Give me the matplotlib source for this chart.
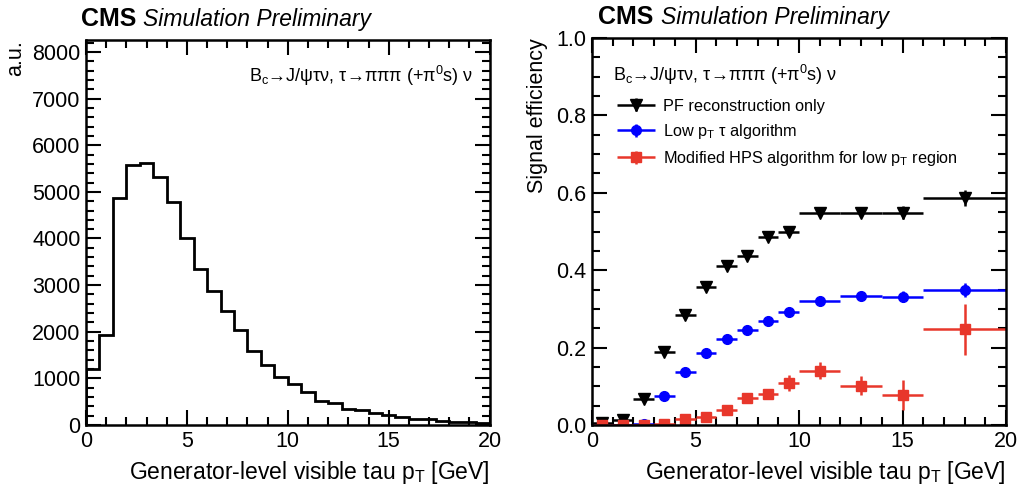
"""CMS low-pT tau: generator-level visible pT and signal efficiency."""

import matplotlib

matplotlib.use("Agg")
import matplotlib.pyplot as plt
import numpy as np
from matplotlib.container import ErrorbarContainer
from matplotlib.legend_handler import HandlerErrorbar

plt.rcParams["font.family"] = ["Liberation Sans", "DejaVu Sans"]
plt.rcParams["mathtext.fontset"] = "custom"
plt.rcParams["mathtext.rm"] = "Liberation Sans"
plt.rcParams["mathtext.it"] = "Liberation Sans:italic"
plt.rcParams["mathtext.bf"] = "Liberation Sans:bold"

# histogram: 30 bins between 0 and 20 GeV
hist_edges = np.linspace(0.0, 20.0, 31)
hist_counts = [
    1210, 1940, 4860, 5570, 5610, 5320, 4780, 4000, 3350, 2880,
    2450, 2030, 1590, 1280, 1020, 870, 700, 525, 480, 340,
    325, 250, 215, 165, 130, 120, 88, 72, 58, 45,
]

# efficiency bins
eff_x = [0.5, 1.5, 2.5, 3.5, 4.5, 5.5, 6.5, 7.5, 8.5, 9.5, 11, 13, 15, 18]
eff_xerr = [0.5] * 10 + [1, 1, 1, 2]

pf_eff = [0.005, 0.013, 0.066, 0.189, 0.285, 0.356, 0.410, 0.436,
          0.487, 0.498, 0.547, 0.547, 0.549, 0.587]
pf_err = [0.002, 0.003, 0.005, 0.007, 0.008, 0.008, 0.008, 0.009,
          0.009, 0.010, 0.008, 0.010, 0.016, 0.020]

lowpt_eff = [0.0, 0.0, 0.002, 0.076, 0.136, 0.186, 0.222, 0.245,
             0.270, 0.292, 0.320, 0.334, 0.332, 0.349]
lowpt_err = [0.001, 0.001, 0.002, 0.005, 0.006, 0.006, 0.007, 0.007,
             0.008, 0.009, 0.007, 0.009, 0.015, 0.018]

hps_eff = [0.0, 0.0, 0.0, 0.002, 0.016, 0.020, 0.040, 0.071,
           0.081, 0.109, 0.140, 0.102, 0.078, 0.247]
hps_err = [0.001, 0.001, 0.001, 0.002, 0.004, 0.005, 0.007, 0.010,
           0.012, 0.020, 0.022, 0.025, 0.038, 0.065]

DECAY_TEXT = r"B$_\mathregular{c}$→J/ψτν, τ→πππ (+π$^\mathregular{0}$s) ν"
XLABEL = r"Generator-level visible tau p$_\mathregular{T}$ [GeV]"


def style_axis(axis, y_major, y_minor):
    axis.set_xlim(0, 20)
    axis.set_xticks(np.arange(0, 21, 5))
    axis.set_xticks(np.arange(0, 21, 1), minor=True)
    axis.set_yticks(y_major)
    axis.set_yticks(y_minor, minor=True)
    axis.tick_params(which="both", direction="in", top=True, right=True,
                     width=1.5, labelsize=15.5, pad=4)
    axis.tick_params(which="major", length=11)
    axis.tick_params(which="minor", length=6)
    for spine in axis.spines.values():
        spine.set_linewidth(1.8)
    axis.set_xlabel(XLABEL, fontsize=16.5, loc="right", labelpad=5)


def add_cms_label(axis, x_offset):
    cms = axis.text(x_offset, 1.022, "CMS", transform=axis.transAxes,
                    fontsize=18, fontweight="bold", va="bottom", ha="left")
    axis.annotate("Simulation Preliminary", xy=(1, 0), xycoords=cms,
                  xytext=(5, 0), textcoords="offset points",
                  fontsize=16.5, style="italic", va="bottom", ha="left")


figure = plt.figure(figsize=(10.2, 4.86), dpi=100)
left_axis = figure.add_axes([0.0843, 0.1255, 0.3957, 0.7925])
right_axis = figure.add_axes([0.5804, 0.1255, 0.4059, 0.7963])

# left: histogram
left_axis.stairs(hist_counts, hist_edges, color="black", linewidth=2)
style_axis(left_axis, np.arange(0, 8001, 1000), np.arange(0, 8201, 200))
left_axis.set_ylim(0, 8260)
left_axis.set_ylabel("a.u.", fontsize=15.5, loc="top", labelpad=4)
left_axis.text(0.96, 0.905, DECAY_TEXT, transform=left_axis.transAxes,
               fontsize=13, ha="right", va="center")
add_cms_label(left_axis, -0.012)

# right: efficiencies
series = [
    (pf_eff, pf_err, "black", "v", 8, "PF reconstruction only"),
    (lowpt_eff, lowpt_err, "#0000ff", "o", 7,
     r"Low p$_\mathregular{T}$ τ algorithm"),
    (hps_eff, hps_err, "#e8372b", "s", 7,
     r"Modified HPS algorithm for low p$_\mathregular{T}$ region"),
]
for values, errors, color, marker, size, label in series:
    right_axis.errorbar(eff_x, values, xerr=eff_xerr, yerr=errors,
                        fmt=marker, color=color, markersize=size,
                        elinewidth=1.8, capsize=0, label=label)

style_axis(right_axis, np.arange(0, 1.01, 0.2), np.arange(0, 1.01, 0.05))
right_axis.set_ylim(0, 1.0)
right_axis.yaxis.set_major_formatter(plt.FormatStrFormatter("%.1f"))
right_axis.set_ylabel("Signal efficiency", fontsize=15.5, loc="top",
                      labelpad=6)
right_axis.text(0.05, 0.905, DECAY_TEXT, transform=right_axis.transAxes,
                fontsize=13, ha="left", va="center")
right_axis.legend(loc="upper left", bbox_to_anchor=(0.045, 0.86),
                  frameon=False, fontsize=11.7, handlelength=2.35,
                  handletextpad=0.5, labelspacing=0.5, borderaxespad=0,
                  handler_map={ErrorbarContainer: HandlerErrorbar(
                      xerr_size=1.17, yerr_size=0.4)})
add_cms_label(right_axis, 0.015)

figure.savefig("out.png", dpi=100)
